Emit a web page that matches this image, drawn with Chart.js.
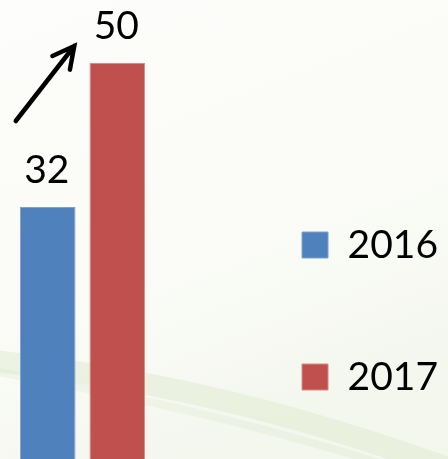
<!DOCTYPE html>
<html>
<head>
<meta charset="utf-8">
<script src="https://cdn.jsdelivr.net/npm/chart.js@4.4.1/dist/chart.umd.min.js"></script>
<style>
  html, body { margin: 0; padding: 0; overflow: hidden; }
  canvas { display: block; }
</style>
</head>
<body>
<canvas id="chart" width="448" height="459"></canvas>
<script>
const categories = [''];
const seriesNames = ['2016', '2017'];
const values2016 = [32];
const values2017 = [50];
const seriesColors = ['#4F81BD', '#C0504D'];
const seriesBorders = ['#7fa3d1', '#d98986'];

// soft green background swooshes like the slide template
const backgroundPlugin = {
    id: 'slideBackground',
    beforeDraw(chart) {
        const ctx = chart.ctx;
        const w = chart.width, h = chart.height;
        ctx.save();
        const g = ctx.createLinearGradient(0, 0, w * 0.4, h);
        g.addColorStop(0, '#fdfdfb');
        g.addColorStop(0.6, '#fbfcf8');
        g.addColorStop(1, '#f4f7ee');
        ctx.fillStyle = g;
        ctx.fillRect(0, 0, w, h);

        ctx.lineCap = 'round';
        ctx.strokeStyle = 'rgba(205, 224, 180, 0.28)';
        ctx.lineWidth = 22;
        ctx.beginPath();
        ctx.moveTo(-30, h * 0.78);
        ctx.bezierCurveTo(w * 0.3, h * 0.82, w * 0.6, h * 0.88, w * 1.0, h * 1.02);
        ctx.stroke();
        ctx.strokeStyle = 'rgba(210, 228, 190, 0.22)';
        ctx.lineWidth = 8;
        ctx.beginPath();
        ctx.moveTo(-30, h * 0.8);
        ctx.bezierCurveTo(w * 0.3, h * 0.86, w * 0.6, h * 0.93, w * 0.95, h * 1.04);
        ctx.stroke();
        ctx.restore();
    }
};

// value labels above bars plus the rising arrow
const labelPlugin = {
    id: 'valueLabels',
    afterDatasetsDraw(chart) {
        const ctx = chart.ctx;
        ctx.save();
        ctx.font = '39px Lato';
        ctx.fillStyle = '#000';
        ctx.textAlign = 'center';
        ctx.textBaseline = 'alphabetic';
        chart.data.datasets.forEach((ds, i) => {
            chart.getDatasetMeta(i).data.forEach((bar, j) => {
                ctx.fillText(String(ds.data[j]), bar.x - 1, bar.y - 24);
            });
        });

        const b0 = chart.getDatasetMeta(0).data[0];
        const b1 = chart.getDatasetMeta(1).data[0];
        const sx = b0.x - 32, sy = b0.y - 86;
        const tx = b1.x - 43, ty = b1.y - 17;
        const ang = Math.atan2(sy - ty, sx - tx);
        const len = 24, spread = 0.48;
        ctx.strokeStyle = '#000';
        ctx.lineWidth = 4.5;
        ctx.lineCap = 'round';
        ctx.lineJoin = 'miter';
        ctx.beginPath();
        ctx.moveTo(sx, sy);
        ctx.lineTo(tx, ty);
        ctx.moveTo(tx + len * Math.cos(ang - spread), ty + len * Math.sin(ang - spread));
        ctx.lineTo(tx, ty);
        ctx.lineTo(tx + len * Math.cos(ang + spread), ty + len * Math.sin(ang + spread));
        ctx.stroke();
        ctx.restore();
    }
};

new Chart(document.getElementById('chart'), {
    type: 'bar',
    data: {
        labels: categories,
        datasets: [
            {
                label: seriesNames[0],
                data: values2016,
                backgroundColor: seriesColors[0],
                borderColor: seriesBorders[0],
                borderWidth: 1
            },
            {
                label: seriesNames[1],
                data: values2017,
                backgroundColor: seriesColors[1],
                borderColor: seriesBorders[1],
                borderWidth: 1
            }
        ]
    },
    options: {
        responsive: false,
        animation: false,
        layout: {
            padding: { left: 0, right: 0, top: 0, bottom: -30.5 }
        },
        datasets: {
            bar: {
                categoryPercentage: 0.8424,
                barPercentage: 0.8
            }
        },
        scales: {
            x: {
                display: false
            },
            y: {
                position: 'right',
                min: 0.5,
                max: 57.875,
                ticks: { display: false },
                grid: { display: false },
                border: { display: false },
                afterFit: function(scale) {
                    scale.width = 44;
                }
            }
        },
        plugins: {
            legend: {
                position: 'right',
                align: 'end',
                maxWidth: 300,
                labels: {
                    boxWidth: 26,
                    boxHeight: 26,
                    padding: 93,
                    color: '#000',
                    font: { family: 'Lato', size: 39 }
                }
            },
            tooltip: { enabled: false }
        }
    },
    plugins: [backgroundPlugin, labelPlugin]
});
</script>
</body>
</html>
